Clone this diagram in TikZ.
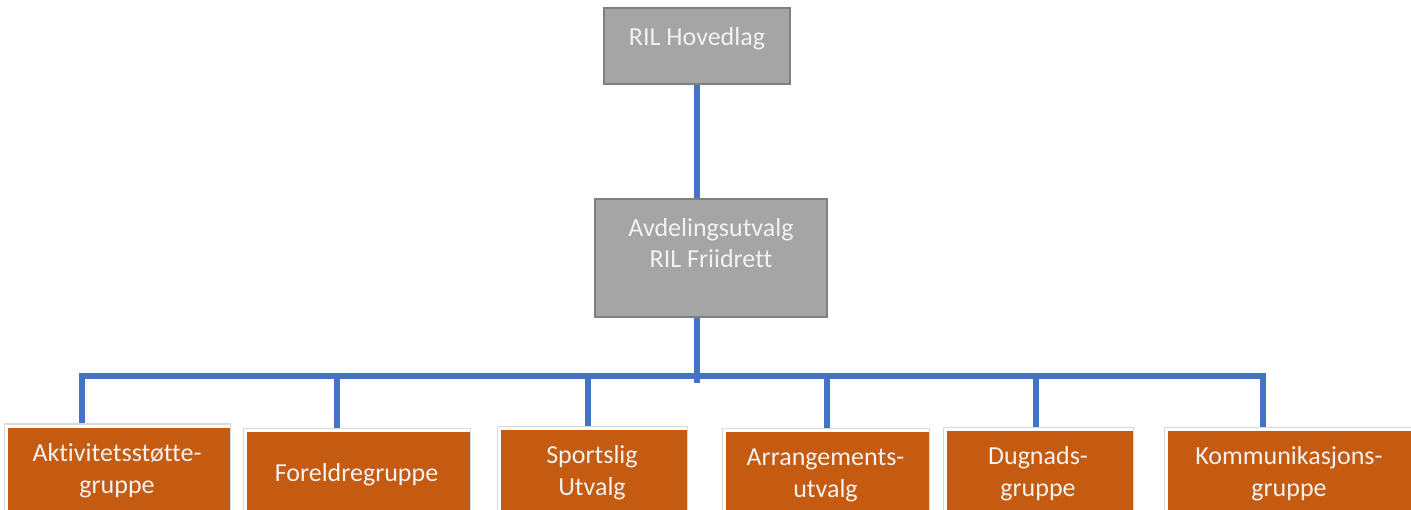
\documentclass[tikz,border=0pt]{standalone}
\usepackage{fontspec}
\setmainfont{Carlito}[Ligatures=NoCommon]
\definecolor{boxgray}{HTML}{A5A5A5}
\definecolor{edgegray}{HTML}{7F7F7F}
\definecolor{boxorange}{HTML}{C55A11}
\definecolor{linkblue}{HTML}{4472C4}
\definecolor{framegray}{HTML}{D9D9D9}
\definecolor{txt}{HTML}{F2F2F2}
\tikzset{graybox/.style = {draw=edgegray, line width=2.5pt, fill=boxgray, rectangle, inner sep=0}}
\tikzset{boxtext/.style = {text=txt, font=\fontsize{26}{31}\selectfont, align=center, inner sep=0, anchor=north, yshift=-20.5pt}}
\tikzset{orangebox/.style = {draw=framegray, line width=1pt, fill=white, rectangle, inner sep=0, minimum height=94pt,
    align=center, text=txt, font=\fontsize{26}{32}\selectfont,
    path picture={\fill[boxorange] ([shift={(3.5pt,-4pt)}]path picture bounding box.north west) rectangle (path picture bounding box.south east);}}}
\tikzset{conn/.style = {draw=linkblue, line width=6pt}}

\begin{document}
\begin{tikzpicture}[x=1pt, y=-1pt]
    \clip (0,0) rectangle (1411,510);

    \node [graybox, minimum width=186pt, minimum height=76pt, label={[boxtext]north:RIL Hovedlag}] (hoved) at (697,46) {};
    \node [graybox, minimum width=232pt, minimum height=118pt, label={[boxtext]north:Avdelingsutvalg\\RIL Friidrett}] (avd) at (711,258) {};

    \node [orangebox, minimum width=226pt] (akt) at (117,471) {Aktivitetsstøtte-\\gruppe};
    \node [orangebox, minimum width=227pt] (for) at (356.5,475) {Foreldregruppe};
    \node [orangebox, minimum width=190pt] (spo) at (592,473) {Sportslig\\Utvalg};
    \node [orangebox, minimum width=207pt] (arr) at (825.5,475) {Arrangements-\\utvalg};
    \node [orangebox, minimum width=190pt] (dug) at (1038,474) {Dugnads-\\gruppe};
    \node [orangebox, minimum width=250pt] (kom) at (1289,474) {Kommunikasjons-\\gruppe};

    \coordinate (bus) at (697,376);

    \draw [conn] (hoved.south) -- (hoved.south |- avd.north);
    \draw [conn] (hoved.south |- avd.south) -- ([yshift=-7pt]bus);
    \draw [conn] ([xshift=-35pt]akt.north) -- ([xshift=-35pt]akt.north |- bus) -- ([xshift=-26pt]kom.north |- bus) -- ([xshift=-26pt]kom.north);
    \foreach \n/\dx in {for/-19.5pt, spo/-4pt, arr/1.5pt, dug/-2pt}
        \draw [conn] ([xshift=\dx]\n.north) -- ([xshift=\dx]\n.north |- bus);
\end{tikzpicture}
\end{document}
